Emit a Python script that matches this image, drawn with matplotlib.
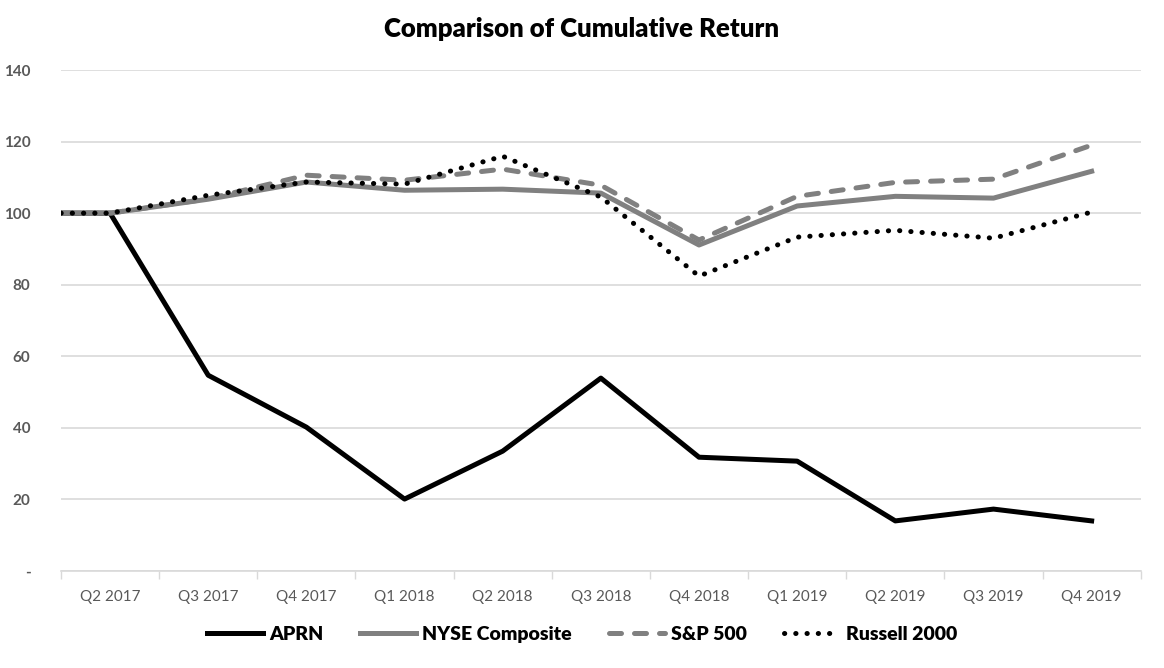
import matplotlib.pyplot as plt

plt.rcParams['font.family'] = ['Lato', 'DejaVu Sans']

quarters = ['Q2 2017', 'Q3 2017', 'Q4 2017', 'Q1 2018', 'Q2 2018', 'Q3 2018',
            'Q4 2018', 'Q1 2019', 'Q2 2019', 'Q3 2019', 'Q4 2019']
aprn = [100, 54.7, 40.2, 20.1, 33.5, 53.9, 31.8, 30.7, 14.0, 17.3, 14.0]
nyse = [100, 103.9, 108.7, 106.4, 106.7, 105.6, 91.1, 102.0, 104.7, 104.2, 111.7]
sp500 = [100, 104.0, 110.6, 109.2, 112.3, 107.8, 92.5, 104.7, 108.6, 109.5, 119.0]
russell = [100, 105.0, 108.7, 108.1, 115.9, 104.5, 82.4, 93.3, 95.2, 93.0, 100.3]
start = 100  # every series starts at the left edge of the plot at 100
yticks = [0, 20, 40, 60, 80, 100, 120, 140]
ylabels = ['-', '20', '40', '60', '80', '100', '120', '140']

fig = plt.figure(figsize=(11.64, 6.68), dpi=100)
ax = fig.add_axes([0.0524, 0.1452, 0.9276, 0.7500])

x = [-0.5] + list(range(len(quarters)))
gray = '#808080'
lw = 3.6
ax.plot(x, [start] + aprn, color='black', lw=lw, solid_joinstyle='round', label='APRN', zorder=3)
ax.plot(x, [start] + nyse, color=gray, lw=lw, solid_joinstyle='round', label='NYSE Composite', zorder=3)
ax.plot(x, [start] + sp500, color=gray, lw=lw, ls=(0, (2.4, 2.6)), dash_capstyle='round',
        label='S&P 500', zorder=3)
ax.plot(x, [start] + russell, color='black', lw=lw, ls=(0, (0.05, 2.2)), dash_capstyle='round',
        label='Russell 2000', zorder=4)

ax.set_xlim(-0.5, len(quarters) - 0.5)
ax.set_ylim(0, 140)
ax.set_yticks(yticks)
ax.set_yticklabels(ylabels)
ax.set_xticks(range(len(quarters)))
ax.set_xticklabels(quarters)
ax.set_xticks([i - 0.5 for i in range(len(quarters) + 1)], minor=True)
ax.tick_params(axis='x', which='major', length=0, pad=14, labelsize=11, labelcolor='#595959')
ax.tick_params(axis='x', which='minor', length=6, color='#d9d9d9', width=1)
ax.tick_params(axis='y', length=0, pad=22, labelsize=11, labelcolor='#595959')
for lab in ax.get_yticklabels():
    lab.set_fontweight('bold')
ax.grid(axis='y', color='#d9d9d9', lw=1.2)
ax.set_axisbelow(True)
for s in ['top', 'right', 'left']:
    ax.spines[s].set_visible(False)
ax.spines['bottom'].set_color('#d9d9d9')
ax.spines['bottom'].set_linewidth(1.2)

fig.suptitle('Comparison of Cumulative Return', y=0.975, fontsize=18.5, fontweight='heavy')
leg = fig.legend(loc='center', bbox_to_anchor=(0.5, 0.05), ncol=4, frameon=False,
                 handlelength=2.9, handletextpad=0.3, columnspacing=1.9,
                 prop={'size': 14, 'weight': 'heavy'})

plt.savefig('out.png')
